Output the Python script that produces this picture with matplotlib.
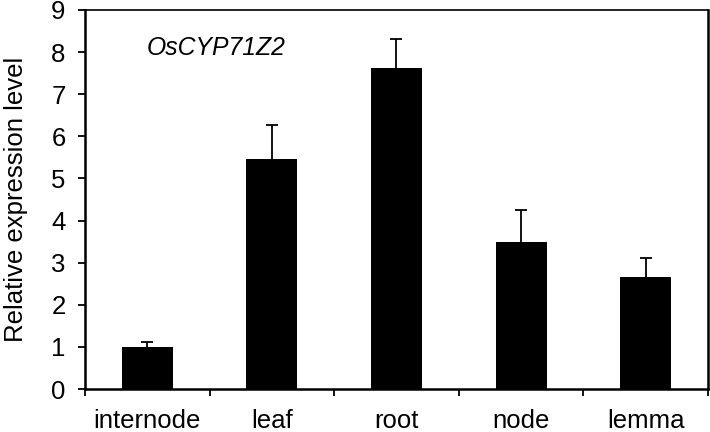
import matplotlib
matplotlib.use("Agg")
import matplotlib.pyplot as plt

tissues = ["internode", "leaf", "root", "node", "lemma"]
expression = [1.0, 5.46, 7.62, 3.48, 2.67]
errors = [0.11, 0.82, 0.69, 0.76, 0.43]

plt.rcParams["font.family"] = ["Liberation Sans", "DejaVu Sans"]

fig = plt.figure(figsize=(7.1, 4.32), dpi=100)
ax = fig.add_axes([0.1197, 0.0995, 0.8775, 0.8775])

x = range(len(tissues))
bars = ax.bar(x, expression, width=0.41, color="black",
              yerr=[[0] * len(errors), errors],
              error_kw=dict(ecolor="black", elinewidth=1.3, capsize=4, capthick=1.3))
# only the upper caps are wanted
caps = bars.errorbar.lines[1]
if len(caps) == 2:
    caps[0].remove()

ax.set_xlim(-0.5, len(tissues) - 0.5)
ax.set_ylim(0, 9)
ax.set_yticks(range(0, 10))
ax.tick_params(axis="y", labelsize=18.5, length=5, width=1.3, pad=9, direction="out")

# category labels centred, ticks between categories
ax.set_xticks(list(x))
ax.set_xticklabels(tissues)
ax.tick_params(axis="x", which="major", length=0, labelsize=18.5, pad=14.5)
ax.set_xticks([i - 0.5 for i in range(len(tissues) + 1)], minor=True)
ax.tick_params(axis="x", which="minor", length=5, width=1.3, direction="out")

ax.set_ylabel("Relative expression level", fontsize=18.5, labelpad=17)

ax.spines["left"].set_linewidth(1.8)
ax.spines["bottom"].set_linewidth(1.8)
ax.spines["right"].set_linewidth(1.8)
ax.spines["top"].set_linewidth(1.2)

ax.text(0.0995, 0.90, "OsCYP71Z2", transform=ax.transAxes, fontsize=17.8,
        style="italic", va="center", ha="left")

fig.savefig("out.png", dpi=100)
